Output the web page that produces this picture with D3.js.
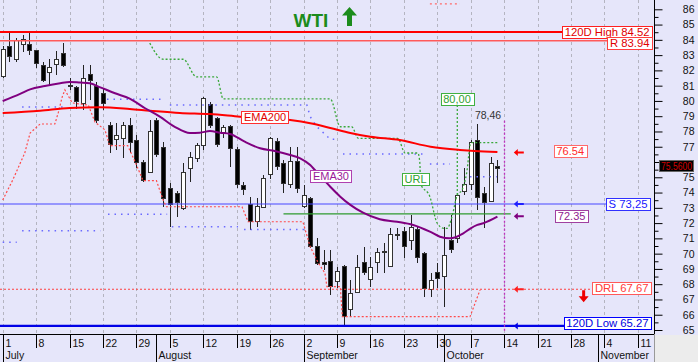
<!DOCTYPE html>
<html>
<head>
<meta charset="utf-8">
<script src="https://cdn.jsdelivr.net/npm/d3@7"></script>
<style>
body { margin: 0; background: #fff; }
svg text { font-family: "Liberation Sans", Arial, sans-serif; }
</style>
</head>
<body>
<div id="chart"></div>
<script>
// daily candles, one per weekday from Mon 1 Jul 2024 (index 0) to Fri 11 Oct 2024
const open  = [81.6,83.55,82.7,83.68,83.7, 83.29,82.31,81.85,82.4,83.12, 81.0,80.9,79.85,81.76,80.93, 80.5,78.42,77.5,77.55,78.42, 77.44,75.98,75.33,78.69,76.96,
               74.28,73.95,72.97,75.59,76.2, 77.07,79.78,78.86,77.95,78.31, 76.79,74.45,73.23,72.09,73.04, 75.15,77.33,75.92,74.5,76.02, 73.07,73.62,70.46,69.41,69.47,
               68.16,69.15,66.36,67.44,69.41, 68.32,69.41,70.05,69.19,71.27, 71.44,70.85,71.59,69.98,67.62, 68.75,68.49,70.89,71.0,74.06, 74.5,77.44,73.91,73.4,75.7];
const high  = [83.6,84.5,84.1,84.3,84.52, 83.35,82.57,82.73,83.29,83.82, 81.5,81.0,82.35,82.35,81.26, 80.83,78.64,78.54,78.64,78.86, 77.77,76.13,78.75,78.86,77.33,
               74.61,74.1,75.92,76.68,77.23, 80.28,79.95,78.97,78.42,78.42, 77.0,74.71,73.73,73.62,75.15, 77.66,77.55,76.13,77.0,77.0, 74.5,73.7,71.0,70.24,70.24,
               69.15,69.26,68.27,69.91,70.46, 69.76,70.35,70.68,71.66,71.66, 71.77,72.53,71.77,70.13,68.71, 69.37,71.77,72.53,73.95,75.59, 77.44,78.46,74.38,76.35,76.13];
const low   = [81.5,82.57,82.57,83.2,83.0, 82.14,81.26,81.04,81.7,82.24, 80.72,79.45,79.4,80.06,78.54, 79.4,76.57,76.79,76.24,76.57, 75.59,74.71,75.26,76.35,73.07,
               71.77,72.42,72.86,74.71,75.98, 76.79,78.21,77.0,77.55,75.69, 74.28,73.84,71.55,71.73,72.97, 74.9,75.48,73.95,74.3,73.95, 72.97,70.35,69.26,68.93,67.29,
               67.73,65.27,65.87,67.4,68.6, 67.84,68.71,68.71,69.15,70.89, 69.7,70.24,69.37,67.14,67.18, 67.73,66.53,70.02,70.68,73.84, 74.17,72.86,71.66,73.35,74.61];
const close = [83.4,82.9,83.95,84.0,83.3, 82.47,81.37,82.2,82.73,82.31, 80.95,79.95,81.48,81.37,78.75, 79.85,77.12,77.72,78.38,77.29, 75.98,74.82,77.99,76.46,73.62,
               73.19,73.36,75.33,76.28,77.07, 80.13,78.42,77.12,78.25,76.9, 74.5,74.17,72.09,73.07,74.93, 77.57,75.69,74.61,76.02,74.28, 73.84,70.46,69.37,69.26,67.84,
               68.82,65.87,67.4,69.11,68.78, 69.11,70.06,70.12,71.27,71.16, 70.5,71.7,69.76,67.73,68.27, 68.34,69.91,70.24,73.84,74.5, 77.26,73.69,73.34,75.92,75.56];

// indicator lines as [day index, price]
const ema200 = [[0,79.21],[5.6,79.36],[10,79.54],[14.5,79.58],[19,79.47],[22,79.36],[26.5,79.21],[31,79.14],[35.5,78.97],[43,78.75],
                [46,78.54],[49,78.23],[52,77.9],[55,77.66],[59.4,77.44],[64,77.0],[68.4,76.79],[70.6,76.72],[74,76.66]];
const ema30 = [[0,79.99],[2.6,80.46],[4.1,80.76],[6.3,80.98],[8.6,81.16],[10,81.24],[11.6,81.2],[13,81.16],[14.6,80.89],[16.8,80.5],
               [19,80.15],[21.3,79.52],[23.5,78.97],[25.8,78.29],[28,77.9],[29.5,77.92],[31,78.03],[32.5,77.92],[34,77.84],[36.2,77.33],
               [38.5,76.9],[40.7,76.72],[43,76.46],[44.5,76.24],[46,75.8],[46.7,75.48],[49,74.38],[50.5,73.73],[52,73.19],[53.9,72.68],
               [56.4,72.25],[59,72.09],[61.4,71.88],[63.9,71.44],[65.4,71.11],[66.9,71.0],[68.9,71.33],[70,71.66],[71,71.88],[71.9,71.99],[74,72.42]];
const urlLine = [[22,83.79],[24,82.73],[27,82.73],[29,81.57],[32,81.57],[33,80.13],[49,80.13],[50.5,78.31],[52.2,78.31],[53.2,77.55],
                 [59.1,77.55],[60.2,76.59],[62.1,76.59],[62.4,75.94],[62.5,74.6],[63.9,73.73],[65,71.99],[66,71.66],[66.5,71.66],[67.2,72.42],
                 [68,73.84],[68.7,74.17],[69.4,75.28],[70,77.23],[70.2,77.27],[74.2,77.27]];
const urlTarget = [[68,73.84],[68,80.0]];
const stopLine = [[0,73.51],[1.5,74.82],[3.3,76.59],[4.1,77.9],[5.6,78.49],[7.8,78.49],[8.3,79.21],[8.9,80.26],[9.3,80.72],[10.4,79.87],
                  [12.8,79.73],[13.8,78.62],[15.3,78.1],[16,77.07],[18.7,77.07],[19.8,76.02],[21,74.78],[23,74.78],[24,73.51],[24.5,73.07],
                  [35.8,73.07],[36.7,72.09],[44.9,72.09],[46,70.45],[47.2,69.39],[48.2,68.73],[48.5,67.84],[50.5,67.84],[50.8,65.87],[69.9,65.87],[71.4,67.62]];
const topStop = [[63.9,86.35],[68.4,86.35]];
const upperBand = [[[2.9,79.6],[9,79.6]], [[15.6,80.11],[24,80.11]], [[25,79.73],[45.5,79.73],[46,78.97],[47,78.31],[49,77.49],[50,77.49]],
                   [[50.9,76.53],[62.9,76.53]], [[63.9,75.87],[66.9,75.87]], [[69.9,75.04],[73.9,75.04]]];
const lowerBand = [[[0,70.74],[2.1,70.74]], [[2.9,71.5],[14.6,71.5]], [[15.75,72.58],[24.6,72.58]], [[25.3,71.76],[35.2,71.76]], [[36.1,71.58],[45.2,71.58]]];
const greenLevel = [[42,72.6],[76,72.6]];

const high120 = 84.52, resist = 83.94, support = 73.25, drl = 67.67, low120 = 65.27;
const lastPrice = 75.56, ema200Last = 76.54, ema30Last = 72.35;

// x axis: Monday ticks every 5 weekdays, month starts
const weekLabels = ["1","8","15","22","29","5","12","19","26","2","9","16","23","30","7","14","21","28","4","11"];
const months = ["July","August","September","October","November"];
const monthStart = [0, 23, 45, 66, 89];
const yTicks = d3.range(65, 87);

const W = 698, H = 362, plotRight = 654, plotBottom = 334;
const x = d3.scaleLinear().domain([0, 95]).range([2.7, 637.8]);
const y = d3.scaleLinear().domain([65, 86]).range([330, 9.3]);

const svg = d3.select("#chart").append("svg").attr("width", W).attr("height", H);
svg.append("rect").attr("width", W).attr("height", H).attr("fill", "#e6e6fa");
svg.append("rect").attr("x", plotRight + 1).attr("y", plotBottom + 1).attr("width", W - plotRight).attr("height", H - plotBottom).attr("fill", "#ececec");

// vertical dashed grid
svg.append("g").selectAll("line").data(weekLabels).join("line")
    .attr("x1", (d, k) => Math.round(x(k * 5)) + 0.5).attr("x2", (d, k) => Math.round(x(k * 5)) + 0.5)
    .attr("y1", 0).attr("y2", plotBottom)
    .attr("stroke", "#b4b4c0").attr("stroke-dasharray", "3,3");

// candles
const days = d3.range(open.length);
const candles = svg.append("g").attr("shape-rendering", "crispEdges");
candles.selectAll("line").data(days).join("line")
    .attr("x1", i => Math.round(x(i)) + 0.5).attr("x2", i => Math.round(x(i)) + 0.5)
    .attr("y1", i => y(high[i])).attr("y2", i => y(low[i]))
    .attr("stroke", "#222");
candles.selectAll("rect").data(days).join("rect")
    .attr("x", i => Math.round(x(i)) - 2 + 0.5).attr("width", 4)
    .attr("y", i => y(Math.max(open[i], close[i])))
    .attr("height", i => Math.max(1, Math.abs(y(open[i]) - y(close[i]))))
    .attr("fill", i => close[i] >= open[i] ? "#fff" : "#000")
    .attr("stroke", "#333");

const line = d3.line().x(d => x(d[0])).y(d => y(d[1]));
const smooth = d3.line().x(d => x(d[0])).y(d => y(d[1])).curve(d3.curveMonotoneX);

function hLine(level, x0, x1, color, width, dash) {
  svg.append("line").attr("x1", x0).attr("x2", x1).attr("y1", y(level)).attr("y2", y(level))
    .attr("stroke", color).attr("stroke-width", width).attr("stroke-dasharray", dash || null);
}
hLine(high120, 0, plotRight - 84, "#ff0000", 2);
hLine(resist, 0, plotRight - 42, "#ff5a5a", 1.5);
hLine(support, 0, plotRight - 44, "#4646ff", 1.2);
hLine(drl, 0, plotRight - 56, "#ff4040", 1.2, "2,2");
hLine(low120, 0, plotRight - 86, "#0000e6", 2.2);

// dotted bands and stops
svg.append("g").selectAll("path").data(upperBand.concat(lowerBand)).join("path")
    .attr("d", line).attr("fill", "none").attr("stroke", "#6a6aff").attr("stroke-width", 1.5)
    .attr("stroke-dasharray", "1.5,5");
svg.append("path").attr("d", line(stopLine)).attr("fill", "none").attr("stroke", "#ff4a4a").attr("stroke-width", 1.2).attr("stroke-dasharray", "2,2");
svg.append("path").attr("d", line(topStop)).attr("fill", "none").attr("stroke", "#ff6a6a").attr("stroke-width", 1.2).attr("stroke-dasharray", "2,3");
svg.append("path").attr("d", smooth(urlLine)).attr("fill", "none").attr("stroke", "#3aa83a").attr("stroke-width", 1.3).attr("stroke-dasharray", "2,2");
svg.append("path").attr("d", line(urlTarget)).attr("fill", "none").attr("stroke", "#3aa83a").attr("stroke-width", 1.3).attr("stroke-dasharray", "2,2");
svg.append("path").attr("d", line(greenLevel)).attr("fill", "none").attr("stroke", "#2e9a2e").attr("stroke-width", 1.2);

// moving averages
svg.append("path").attr("d", smooth(ema200)).attr("fill", "none").attr("stroke", "#ff0000").attr("stroke-width", 2);
svg.append("path").attr("d", smooth(ema30)).attr("fill", "none").attr("stroke", "#800080").attr("stroke-width", 2);

// current-week marker
svg.append("line").attr("x1", Math.round(x(75)) + 0.5).attr("x2", Math.round(x(75)) + 0.5)
    .attr("y1", y(78.7)).attr("y2", plotBottom - 2)
    .attr("stroke", "#c030c0").attr("stroke-width", 1.3).attr("stroke-dasharray", "2,2");

// small arrows pointing at the levels
function arrowLeft(cx, cy, color) {
  svg.append("path").attr("fill", color)
    .attr("d", `M${cx - 5},${cy} L${cx - 1},${cy - 3.5} L${cx - 1},${cy - 1} L${cx + 5},${cy - 1} L${cx + 5},${cy + 1} L${cx - 1},${cy + 1} L${cx - 1},${cy + 3.5} Z`);
}
const ax = x(77.2);
arrowLeft(ax, y(ema200Last + 0.08), "#ff0000");
arrowLeft(ax, y(support), "#2020ff");
arrowLeft(ax, y(ema30Last + 0.1), "#800080");
arrowLeft(ax, y(drl), "#ff2020");
arrowLeft(ax, y(low120), "#0000e6");

// down arrow under DRL
const dx = x(86.9), dy = y(drl);
svg.append("path").attr("fill", "#ee0000")
  .attr("d", `M${dx - 1.5},${dy + 1} L${dx + 1.5},${dy + 1} L${dx + 1.5},${dy + 7} L${dx + 5},${dy + 7} L${dx},${dy + 13} L${dx - 5},${dy + 7} L${dx - 1.5},${dy + 7} Z`);

// boxed labels
function boxLabel(text, px, py, color, border, anchor, fill, size) {
  const g = svg.append("g");
  const r = g.append("rect");
  const t = g.append("text").text(text).attr("font-size", size || 11).attr("fill", color)
    .attr("dominant-baseline", "central").attr("y", py);
  const w = t.node().getComputedTextLength() + 5, h = 12;
  const left = anchor === "end" ? px - w : px - w / 2;
  t.attr("x", left + 2.5);
  r.attr("x", Math.round(left) + 0.5).attr("y", Math.round(py - h / 2) + 0.5).attr("width", Math.round(w)).attr("height", h)
    .attr("fill", fill || "#fff").attr("stroke", border).attr("stroke-width", 1);
}
const labelRight = plotRight - 2;
boxLabel("120D High 84.52", labelRight, y(high120) + 0.5, "#e00000", "#ff2020", "end", null, 11.3);
boxLabel("R 83.94", labelRight, y(resist) + 2.5, "#e00000", "#ff4040", "end", null, 11.3);
boxLabel("S 73,25", labelRight - 2, y(support), "#1818ff", "#3030ff", "end", null, 11.3);
boxLabel("DRL 67.67", labelRight - 1, y(drl) - 1.3, "#ff3a3a", "#ff5a5a", "end", null, 11.3);
boxLabel("120D Low 65.27", labelRight - 1, y(low120) - 3, "#0000e0", "#0000ff", "end", null, 11.3);
boxLabel("76.54", x(84.9), y(76.75), "#ff2a2a", "#ff6a6a", "middle");
boxLabel("72.35", x(85.1), y(72.45), "#902090", "#a040a0", "middle");
boxLabel("EMA200", x(39.24), y(78.95), "#e00000", "#ff3030", "middle");
boxLabel("EMA30", x(49.1), y(75.09), "#9a1a9a", "#b040b0", "middle");
boxLabel("URL", x(61.75), y(74.89), "#30a030", "#40b040", "middle");
boxLabel("80,00", x(67.96), y(80.1), "#30a030", "#40b040", "middle");

svg.append("text").attr("x", x(72.6)).attr("y", y(78.82)).attr("text-anchor", "middle")
    .attr("font-size", 10.5).attr("fill", "#333").text("78,46");

// title
svg.append("text").attr("x", 311).attr("y", 27).attr("text-anchor", "middle")
    .attr("font-size", 19).attr("font-weight", "bold").attr("fill", "#1c8c1c").text("WTI");
svg.append("path").attr("fill", "#1c8c1c")
    .attr("d", "M349.5,7 L357,15.5 L352,15.5 L352,26 L347,26 L347,15.5 L342,15.5 Z");

// right price axis (the 76 label sits under the last-price box)
svg.append("line").attr("x1", plotRight + 0.5).attr("x2", plotRight + 0.5).attr("y1", 0).attr("y2", plotBottom)
    .attr("stroke", "#000");
const yAxis = svg.append("g").attr("transform", `translate(${plotRight + 0.5},0)`)
    .call(d3.axisRight(y).tickValues(yTicks).tickSize(8).tickFormat(d => d === 76 ? "" : d3.format("d")(d)));
yAxis.select(".domain").remove();
yAxis.selectAll("text").attr("x", 40).attr("text-anchor", "end").attr("font-size", 10.5)
    .attr("font-family", "Liberation Sans, Arial, sans-serif").attr("fill", "#111");
const yMinor = svg.append("g").attr("transform", `translate(${plotRight + 0.5},0)`)
    .call(d3.axisRight(y).tickValues(yTicks.slice(0, -1).map(v => v + 0.5)).tickSize(4).tickFormat(""));
yMinor.select(".domain").remove();

// last price box
const lp = svg.append("g");
const lpTop = Math.round(y(lastPrice)) - 8.5;
lp.append("rect").attr("x", 659.5).attr("y", lpTop).attr("width", 34).attr("height", 11)
    .attr("fill", "#000").attr("stroke", "#666");
lp.append("text").attr("x", 661).attr("y", lpTop + 5.7).attr("dominant-baseline", "central")
    .attr("font-size", 10).attr("textLength", 31).attr("lengthAdjust", "spacingAndGlyphs")
    .attr("fill", "#d00000").text("75.5600");

// date band
svg.append("line").attr("x1", 0).attr("x2", plotRight + 1).attr("y1", plotBottom + 0.5).attr("y2", plotBottom + 0.5).attr("stroke", "#000");
svg.append("g").selectAll("line").data(weekLabels).join("line")
    .attr("x1", (d, k) => Math.round(x(k * 5)) + 0.5).attr("x2", (d, k) => Math.round(x(k * 5)) + 0.5)
    .attr("y1", plotBottom).attr("y2", 348).attr("stroke", "#000");
svg.append("g").selectAll("text").data(weekLabels).join("text")
    .attr("x", (d, k) => Math.round(x(k * 5)) + 2.5).attr("y", 346.5)
    .attr("font-size", 10.5).attr("fill", "#111").text(d => d);
svg.append("g").selectAll("line").data(monthStart).join("line")
    .attr("x1", i => Math.round(x(i)) + 0.5).attr("x2", i => Math.round(x(i)) + 0.5)
    .attr("y1", plotBottom).attr("y2", H).attr("stroke", "#000");
svg.append("g").selectAll("text").data(months).join("text")
    .attr("x", (d, k) => Math.round(x(monthStart[k])) + 2.5).attr("y", 358.5)
    .attr("font-size", 10.5).attr("fill", "#111").text(d => d);
svg.append("line").attr("x1", plotRight + 0.5).attr("x2", plotRight + 0.5).attr("y1", plotBottom).attr("y2", H).attr("stroke", "#999");
</script>
</body>
</html>
